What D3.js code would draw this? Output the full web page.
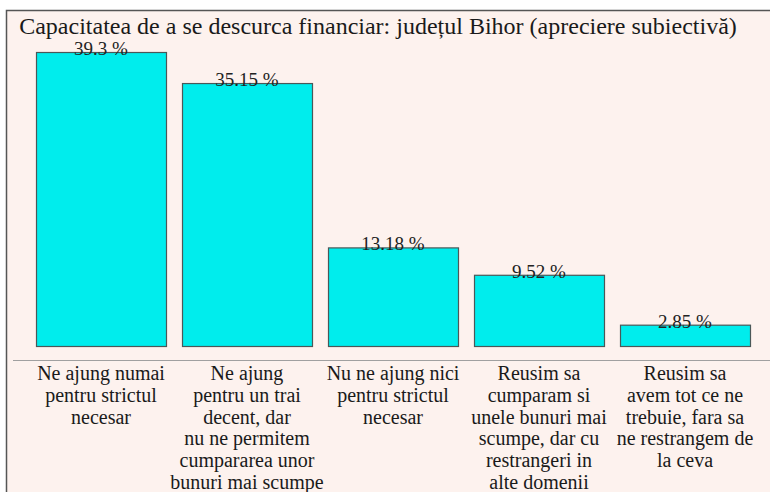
<!DOCTYPE html>
<html><head><meta charset="utf-8">
<script src="https://cdn.jsdelivr.net/npm/d3@7"></script>
<style>html,body{margin:0;padding:0;background:#fff;}svg{display:block;font-family:"Liberation Serif",serif;}text{font-family:"Liberation Serif",serif;}</style>
</head><body>
<script>
const title = "Capacitatea de a se descurca financiar: județul Bihor (apreciere subiectivă)";
const categories = [
  ["Ne ajung numai","pentru strictul","necesar"],
  ["Ne ajung","pentru un trai","decent, dar","nu ne permitem","cumpararea unor","bunuri mai scumpe"],
  ["Nu ne ajung nici","pentru strictul","necesar"],
  ["Reusim sa","cumparam si","unele bunuri mai","scumpe, dar cu","restrangeri in","alte domenii"],
  ["Reusim sa","avem tot ce ne","trebuie, fara sa","ne restrangem de","la ceva"]
];
const values = [39.3, 35.15, 13.18, 9.52, 2.85];
const valueLabels = ["39.3 %", "35.15 %", "13.18 %", "9.52 %", "2.85 %"];

const W = 770, H = 492;
const svg = d3.select("body").append("svg").attr("width", W).attr("height", H);

svg.append("rect").attr("x", 6.5).attr("y", 10.5).attr("width", W).attr("height", H + 10)
  .attr("fill", "#fdf2ee").attr("stroke", "#555").attr("stroke-width", 1.5);

const x = d3.scaleBand().domain(d3.range(values.length)).range([28, 758]).paddingInner(16/146).paddingOuter(8/146);
const y = d3.scaleLinear().domain([0, 39.3]).range([346, 52]);

svg.append("line").attr("x1", 13).attr("x2", W).attr("y1", 360.5).attr("y2", 360.5)
  .attr("stroke", "#a0a0a0").attr("stroke-width", 1);

svg.selectAll("rect.bar").data(values).join("rect").attr("class", "bar")
  .attr("x", (d, i) => x(i) + 0.5).attr("width", x.bandwidth())
  .attr("y", d => y(d) + 0.5).attr("height", d => y(0) - y(d))
  .attr("fill", "#00eded").attr("stroke", "#4a5858").attr("stroke-width", 1.2);

svg.selectAll("text.val").data(values).join("text").attr("class", "val")
  .attr("x", (d, i) => x(i) + x.bandwidth() / 2).attr("y", d => y(d) + 3)
  .attr("text-anchor", "middle").attr("font-size", 19)
  .attr("fill", "#222").text((d, i) => valueLabels[i]);

const cg = svg.selectAll("text.cat").data(categories).join("text").attr("class", "cat")
  .attr("text-anchor", "middle").attr("font-size", 20).attr("fill", "#1a1a1a");
cg.selectAll("tspan").data((d, i) => d.map(s => ({s, i}))).join("tspan")
  .attr("x", d => x(d.i) + x.bandwidth() / 2)
  .attr("y", (d, j) => 380 + j * 21.8)
  .text(d => d.s);

svg.append("text").attr("x", 378).attr("y", 34).attr("text-anchor", "middle")
  .attr("font-size", 24).attr("fill", "#1a1a1a").text(title);
</script>
</body></html>
